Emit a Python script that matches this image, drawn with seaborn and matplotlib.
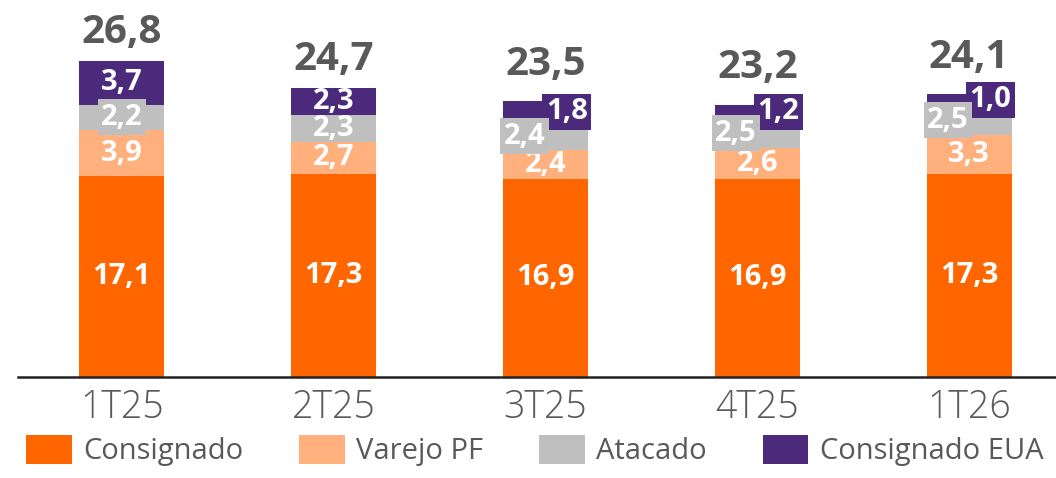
import numpy as np
import matplotlib.pyplot as plt
import seaborn as sns
from matplotlib.patches import Patch

quarters = ["1T25", "2T25", "3T25", "4T25", "1T26"]
consignado = [17.1, 17.3, 16.9, 16.9, 17.3]
varejo_pf = [3.9, 2.7, 2.4, 2.6, 3.3]
atacado = [2.2, 2.3, 2.4, 2.5, 2.5]
consignado_eua = [3.7, 2.3, 1.8, 1.2, 1.0]
totals = [26.8, 24.7, 23.5, 23.2, 24.1]

names = ["Consignado", "Varejo PF", "Atacado", "Consignado EUA"]
colors = ["#FF6600", "#FFB07C", "#BFBFBF", "#4B2A7B"]
series = [consignado, varejo_pf, atacado, consignado_eua]

sns.set_style("white")
plt.rcParams["font.family"] = ["Open Sans", "DejaVu Sans"]

fig = plt.figure(figsize=(10.56, 4.78), dpi=100)
ax = fig.add_axes([18 / 1056, 101 / 478, 1038 / 1056, 377 / 478])

stack = np.cumsum(np.array(series), axis=0)
# draw from top layer down so each cumulative bar shows its own segment
for i in range(len(series) - 1, -1, -1):
    sns.barplot(x=quarters, y=stack[i], color=colors[i], width=0.4,
                saturation=1, linewidth=0, ax=ax, zorder=2)

ax.set_xlim(-0.49, 4.41)
ax.set_ylim(0, 32.1)
ax.set_yticks([])
ax.set_ylabel("")
for s in ["top", "right", "left"]:
    ax.spines[s].set_visible(False)
ax.spines["bottom"].set_color("#222222")
ax.spines["bottom"].set_linewidth(1.8)
ax.tick_params(axis="x", length=0, pad=8, labelsize=27, labelcolor="#595959")
for lbl in ax.get_xticklabels():
    lbl.set_fontweight("light")

fmt = lambda v: f"{v:.1f}".replace(".", ",")

for j in range(len(quarters)):
    bottoms = [0] + list(stack[:-1, j])
    small = consignado_eua[j] < 2.0
    for i, vals in enumerate(series):
        v = vals[j]
        yc = bottoms[i] + v / 2
        dx = 0.0
        box = None
        if i >= 2 and (small or v < 2.3):
            box = dict(boxstyle="square,pad=0.12", fc=colors[i], ec="none")
            if small:
                dx = -0.1 if i == 2 else 0.1
        ax.text(j + dx, yc, fmt(v), ha="center", va="center", color="white",
                fontsize=21, fontweight="bold", bbox=box,
                zorder={0: 3, 1: 4, 2: 6, 3: 5}[i])
    ax.annotate(fmt(totals[j]), (j, stack[-1, j]), xytext=(0, 13 if not small else 19),
                textcoords="offset points", ha="center", va="baseline",
                fontsize=29, fontweight="bold", color="#595959")

handles = [Patch(facecolor=c, edgecolor="none", label=n) for c, n in zip(colors, names)]
fig.legend(handles=handles, loc="lower left", bbox_to_anchor=(0.014, 0.0, 0.985, 0.08),
           mode="expand", ncol=4, frameon=False, fontsize=21, handlelength=1.55,
           handleheight=1.15, handletextpad=0.4, columnspacing=0.8,
           labelcolor="#595959", borderaxespad=0)

fig.savefig("out.png", dpi=100)
